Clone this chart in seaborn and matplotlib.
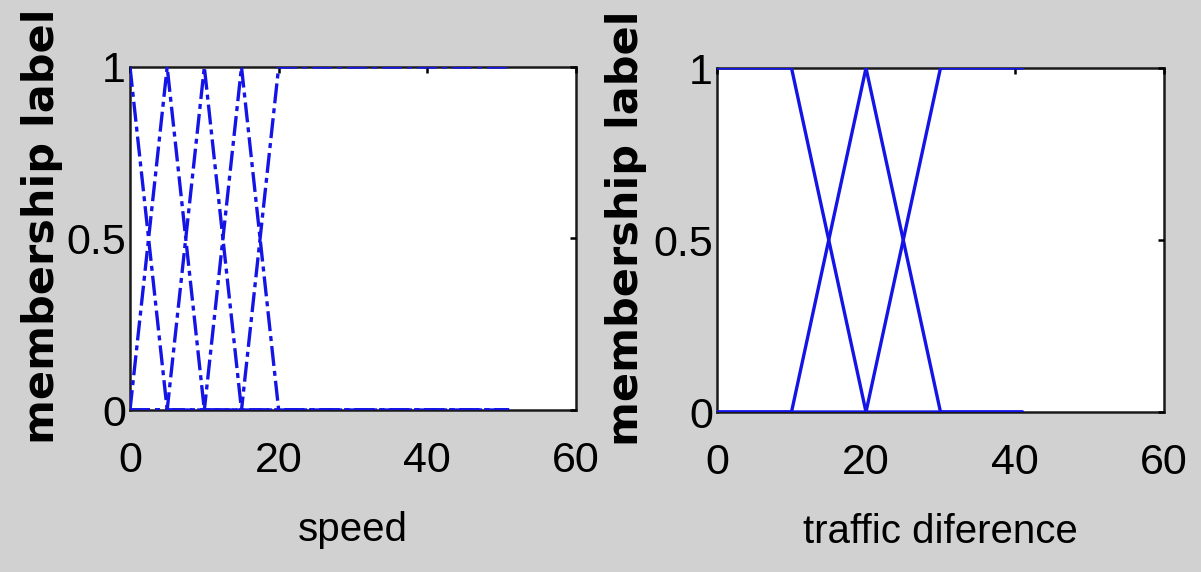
import pandas as pd
import matplotlib
matplotlib.use("Agg")
import matplotlib.pyplot as plt
import seaborn as sns

# speed membership functions (breakpoints)
speed_grid = [0, 5, 10, 15, 20, 51]
speed_mf1 = [1, 0, 0, 0, 0, 0]
speed_mf2 = [0, 1, 0, 0, 0, 0]
speed_mf3 = [0, 0, 1, 0, 0, 0]
speed_mf4 = [0, 0, 0, 1, 0, 0]
speed_mf5 = [0, 0, 0, 0, 1, 1]

# traffic difference membership functions
traffic_grid = [0, 10, 20, 30, 41]
traffic_mf1 = [1, 1, 0, 0, 0]
traffic_mf2 = [0, 0, 1, 0, 0]
traffic_mf3 = [0, 0, 0, 1, 1]

x_ticks = [0, 20, 40, 60]
x_tick_labels = ["0", "20", "40", "60"]
y_ticks = [0, 0.5, 1]
y_tick_labels = ["0", "0.5", "1"]

BLUE = "#1414e6"
BG = "#d1d1d1"


def build_frame(grid, mfs):
    rows = []
    for name, vals in mfs.items():
        for x, mu in zip(grid, vals):
            rows.append({"x": x, "mu": mu, "mf": name})
    return pd.DataFrame(rows)


def draw_panel(ax, df, xlabel, linestyle, label_x):
    sns.lineplot(data=df, x="x", y="mu", units="mf", estimator=None, sort=False,
                 color=BLUE, linewidth=2.4, linestyle=linestyle, ax=ax)
    ax.set_facecolor("white")
    ax.set_xlim(0, 60)
    ax.set_ylim(0, 1)
    ax.set_xticks(x_ticks)
    ax.set_xticklabels(x_tick_labels)
    ax.set_yticks(y_ticks)
    ax.set_yticklabels(y_tick_labels)
    ax.tick_params(direction="in", length=4, width=1.8, top=True, right=True,
                   labelsize=31, colors="black")
    ax.tick_params(axis="x", pad=22)
    ax.tick_params(axis="y", pad=3)
    for sp in ax.spines.values():
        sp.set_visible(True)
        sp.set_color("#1a1a1a")
        sp.set_linewidth(1.8)
        sp.set_zorder(0)
    ax.set_xlabel(xlabel, fontsize=29, color="black")
    ax.xaxis.set_label_coords(0.5, -0.295)
    ax.set_ylabel("membership label", fontsize=31, fontweight="bold", color="black",
                  family=["DejaVu Sans"])
    ax.yaxis.set_label_coords(label_x, 0.535)
    ax.grid(False)


sns.set_style("white")
plt.rcParams["font.family"] = ["Liberation Sans", "DejaVu Sans"]
plt.rcParams["text.color"] = "black"

fig = plt.figure(figsize=(12.01, 5.72), dpi=100, facecolor=BG)
ax1 = fig.add_axes([130 / 1201, 1 - 410 / 572, 446 / 1201, 343 / 572])
ax2 = fig.add_axes([717 / 1201, 1 - 412 / 572, 447 / 1201, 344 / 572])

speed_df = build_frame(speed_grid, {"mf1": speed_mf1, "mf2": speed_mf2, "mf3": speed_mf3,
                                    "mf4": speed_mf4, "mf5": speed_mf5})
traffic_df = build_frame(traffic_grid, {"mf1": traffic_mf1, "mf2": traffic_mf2,
                                        "mf3": traffic_mf3})

draw_panel(ax1, speed_df, "speed", (0, (6, 1.5, 1.5, 1.5)), -0.15)
draw_panel(ax2, traffic_df, "traffic diference", "-", -0.157)

fig.savefig("out.png", dpi=100, facecolor=BG)
